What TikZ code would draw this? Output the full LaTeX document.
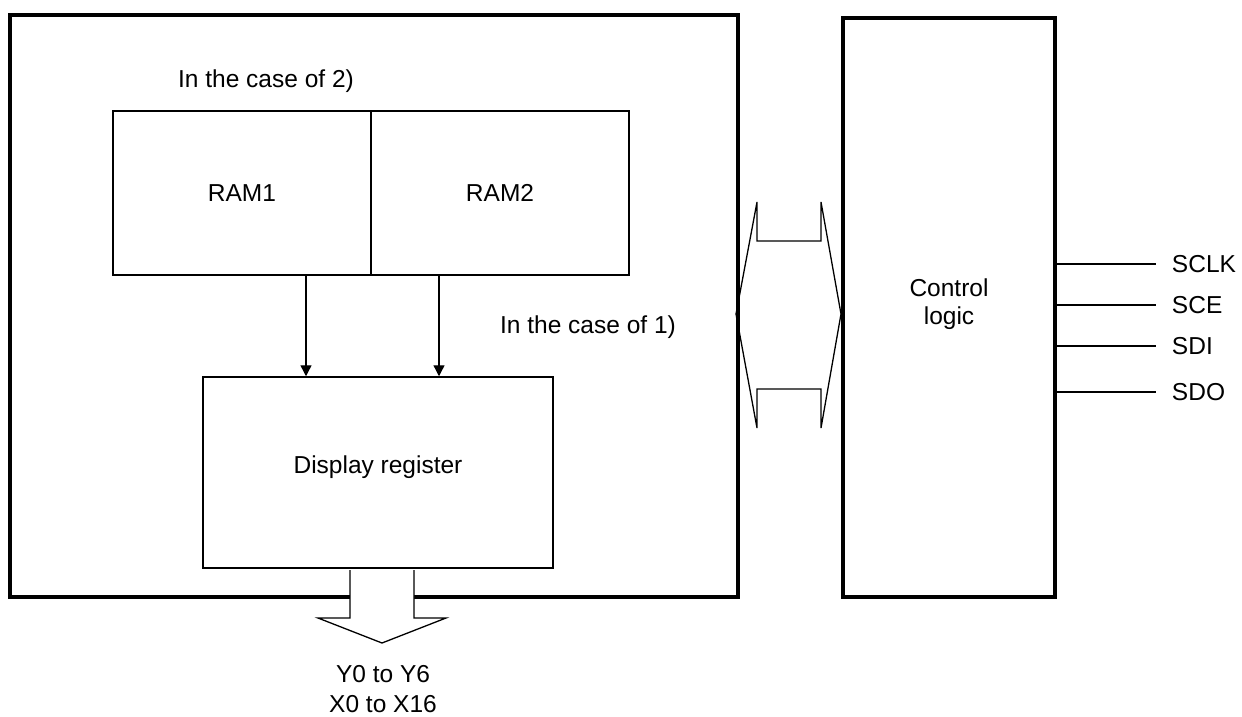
\documentclass[tikz,border=0pt]{standalone}
\usepackage{fontspec}
\setmainfont{Liberation Sans}
\usetikzlibrary{arrows.meta}

\begin{document}
\begin{tikzpicture}[x=1pt,y=-1pt,
	every node/.style={font=\fontsize{24.5}{28}\selectfont},
	outerbox/.style={draw,line width=4pt,inner sep=0pt},
	innerbox/.style={draw,line width=1.5pt,inner sep=0pt},
	thin/.style={line width=1.3pt}]
	\useasboundingbox (0,0) rectangle (1242,716);
	% blocks
	\node[outerbox,minimum width=728pt,minimum height=582pt] (chip) at (374,306) {};
	\node[outerbox,minimum width=212pt,minimum height=579pt] (ctrl) at (949,307.5) {};
	\node[align=center] (ctrltext) at (949,304) {Control\\logic};
	\node[innerbox,minimum width=258pt,minimum height=164pt] (ram1) at (242,193) {RAM1};
	\node[innerbox,minimum width=258pt,minimum height=164pt] (ram2) at (500,193) {RAM2};
	\node[innerbox,minimum width=350pt,minimum height=191pt] (disp) at (378,472.5) {};
	\node (disptext) at (378,467) {Display register};
	\node (case2) at (266,81) {In the case of 2)};
	\node (case1) at (588,327) {In the case of 1)};
	% RAM -> display register
	\draw[thin,-{Triangle[length=11pt,width=11pt]}] ([xshift=64pt]ram1.south) -- ([xshift=64pt]ram1.south |- disp.north);
	\draw[thin,-{Triangle[length=11pt,width=11pt]}] ([xshift=-61pt]ram2.south) -- ([xshift=-61pt]ram2.south |- disp.north);
	% bus between chip and control logic
	\draw[thin,line join=miter] (757,202) -- (736,314) -- (757,428) -- (757,389) -- (821,389)
		-- (821,428) -- (841,314) -- (821,202) -- (821,241) -- (757,241) -- cycle;
	% output arrow
	\draw[thin,fill=white] (350,570) -- (350,618) -- (318,618) -- (382,643) -- (446,618)
		-- (414,618) -- (414,570);
	\node[align=center,font=\fontsize{24.5}{30}\selectfont] (out) at (383,689) {Y0 to Y6\\X0 to X16};
	% serial interface
	\foreach \yy/\sig in {264/SCLK,305/SCE,346/SDI,392/SDO} {
		\draw[thin] (ctrl.east |- 0,\yy) -- (1156,\yy) node[right=12pt] (sig\sig) {\sig};
	}
\end{tikzpicture}
\end{document}
